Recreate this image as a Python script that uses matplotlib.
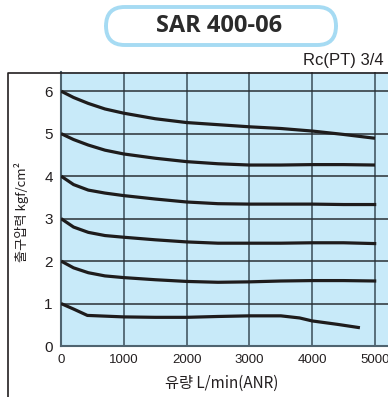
import numpy as np
import matplotlib
matplotlib.use("Agg")
import matplotlib.pyplot as plt
from matplotlib.patches import FancyBboxPatch
from matplotlib.lines import Line2D

# flow (L/min ANR) vs outlet pressure (kgf/cm2), one curve per set pressure
flow_1 = [0, 200, 420, 1000, 1500, 2000, 2500, 3000, 3500, 3800, 4000, 4400, 4760]
pres_1 = [1.0, 0.87, 0.72, 0.685, 0.675, 0.675, 0.695, 0.71, 0.71, 0.66, 0.59, 0.51, 0.43]

flow_2 = [0, 200, 435, 700, 1000, 1500, 2000, 2500, 3000, 3500, 4000, 4500, 5020]
pres_2 = [2.0, 1.84, 1.725, 1.65, 1.61, 1.56, 1.52, 1.50, 1.51, 1.53, 1.54, 1.54, 1.53]

flow_3 = [0, 200, 435, 700, 1000, 1500, 2000, 2500, 3000, 3500, 4000, 4500, 5020]
pres_3 = [3.0, 2.80, 2.675, 2.60, 2.56, 2.50, 2.45, 2.42, 2.42, 2.42, 2.43, 2.43, 2.41]

flow_4 = [0, 200, 435, 700, 1000, 1500, 2000, 2500, 3000, 3500, 4000, 4500, 5020]
pres_4 = [4.0, 3.80, 3.67, 3.60, 3.54, 3.46, 3.39, 3.35, 3.34, 3.34, 3.34, 3.33, 3.33]

flow_5 = [0, 200, 435, 700, 1000, 1500, 2000, 2500, 3000, 3500, 4000, 4500, 5000]
pres_5 = [5.0, 4.86, 4.73, 4.61, 4.52, 4.42, 4.34, 4.29, 4.26, 4.26, 4.27, 4.27, 4.26]

flow_6 = [0, 200, 435, 700, 1000, 1500, 2000, 2500, 3000, 3500, 4000, 4500, 5000]
pres_6 = [6.0, 5.85, 5.71, 5.58, 5.48, 5.35, 5.26, 5.21, 5.16, 5.12, 5.06, 4.98, 4.89]

curves = [(flow_1, pres_1), (flow_2, pres_2), (flow_3, pres_3),
          (flow_4, pres_4), (flow_5, pres_5), (flow_6, pres_6)]

xticks = [0, 1000, 2000, 3000, 4000, 5000]
yticks = [0, 1, 2, 3, 4, 5, 6]

title = "SAR 400-06"
port = "Rc(PT) 3/4"
xlabel = "유량 L/min(ANR)"
ylabel = "출구압력 kgf/cm²"

W, H = 388, 397
fig = plt.figure(figsize=(W / 100, H / 100), dpi=100)
fig.patch.set_facecolor("white")

ax = fig.add_axes([61 / W, 1 - 346 / H, (W - 61) / W, (346 - 72) / H])
ax.set_facecolor("#c8eaf9")
ax.set_xlim(0, 5207)
ax.set_ylim(0, 6.45)

for x in xticks[1:]:
    ax.axvline(x, color="#4f6470", lw=1.3, zorder=1)
for y in yticks[1:]:
    ax.axhline(y, color="#2a3035", lw=1.1, zorder=1)

for fl, pr in curves:
    ax.plot(fl, pr, color="#1e1c1c", lw=2.3, solid_capstyle="butt", zorder=3)

for s in ["top", "right"]:
    ax.spines[s].set_visible(False)
ax.spines["left"].set_color("#4f6470")
ax.spines["left"].set_linewidth(1.5)
ax.spines["bottom"].set_color("#4f6470")
ax.spines["bottom"].set_linewidth(1.5)

ax.set_xticks(xticks)
ax.set_yticks(yticks)
ax.tick_params(length=0, pad=6)
for lab in ax.get_xticklabels():
    lab.set_fontfamily("Liberation Sans")
    lab.set_fontsize(9.5)
    lab.set_color("#231f20")
for lab in ax.get_yticklabels():
    lab.set_fontfamily("Liberation Sans")
    lab.set_fontsize(11)
    lab.set_color("#231f20")

fig.text(222 / W, 1 - 383 / H, xlabel, ha="center", va="center", fontsize=11,
         family=["Noto Sans CJK KR", "DejaVu Sans"], color="#231f20")
fig.text(22 / W, 1 - 212 / H, ylabel, ha="center", va="center", fontsize=9.5,
         rotation=90, family=["Noto Sans CJK KR", "DejaVu Sans"], color="#231f20")

# outer frame
fig.add_artist(Line2D([7.5 / W, 7.5 / W, 1.0], [0.0, 1 - 72.5 / H, 1 - 72.5 / H],
                      transform=fig.transFigure, color="#231f20", lw=1.2))

# title box
box = FancyBboxPatch((106 / W, 1 - 45 / H), (336 - 106) / W, (45 - 7) / H,
                     boxstyle="round,pad=0,rounding_size=0.048",
                     transform=fig.transFigure, facecolor="white",
                     edgecolor="#a6dbf3", lw=2.8)
fig.add_artist(box)
fig.text(219 / W, 1 - 26 / H, title, ha="center", va="center", fontsize=17,
         fontweight="bold", family="Open Sans", color="#2b2b2b")
fig.text(303 / W, 1 - 60 / H, port, ha="left", va="center", fontsize=12,
         family="Liberation Sans", color="#231f20")

fig.savefig("out.png", dpi=100)
